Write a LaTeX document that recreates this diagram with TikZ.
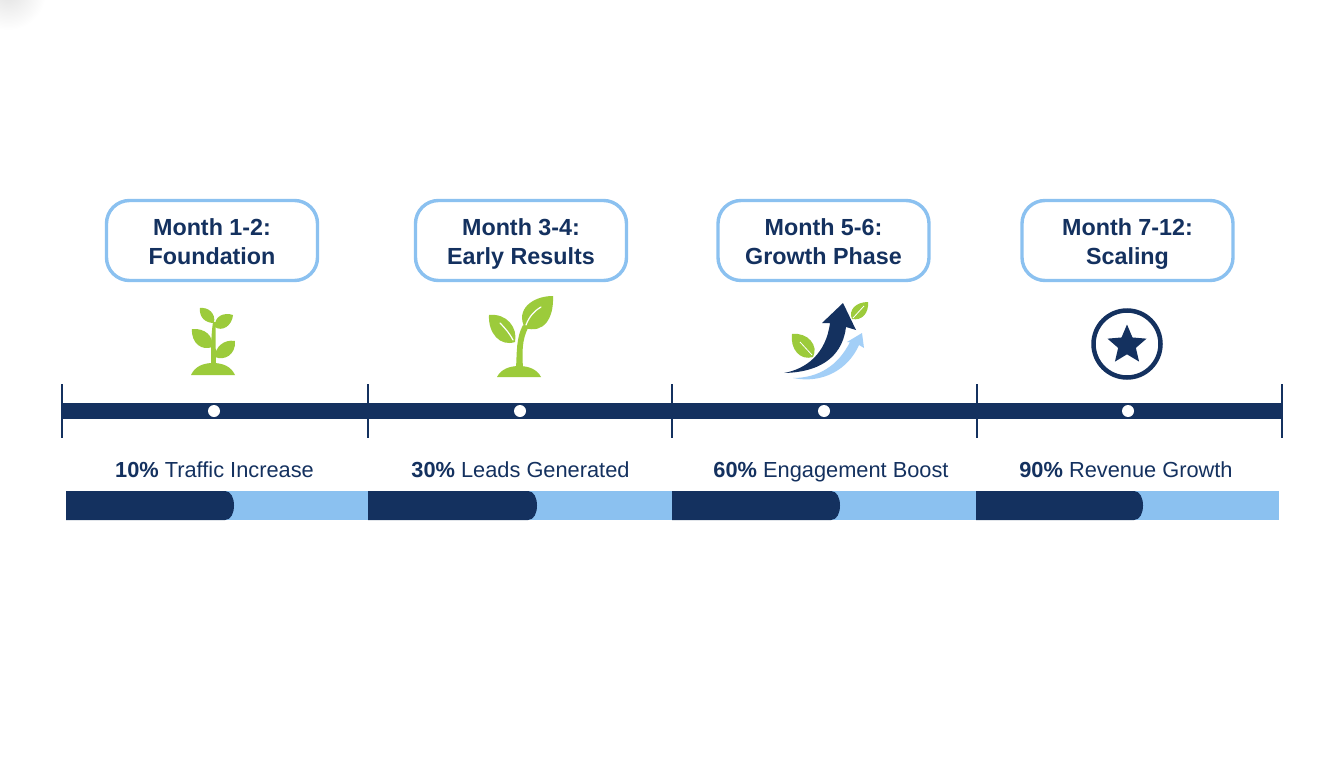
\documentclass[tikz,border=0pt]{standalone}
\usepackage{fontspec}
\setmainfont{Liberation Sans}
\usetikzlibrary{shapes.geometric}
\definecolor{navy}{HTML}{14315F}
\definecolor{sky}{HTML}{8BC1F0}
\definecolor{paleblue}{HTML}{A3CFF7}
\definecolor{leafgreen}{HTML}{9CCB3B}
\tikzset{
  phasebox/.style={draw=sky,line width=3.4pt,fill=white,rounded corners=23pt,minimum width=211pt,minimum height=80pt,align=center,text=navy,font=\fontsize{23.3}{29}\selectfont\bfseries,inner sep=0pt},
  metric/.style={text=navy,font=\fontsize{21.8}{26}\selectfont,inner sep=0pt,anchor=base},
  tick/.style={draw=navy,line width=2pt},
  dot/.style={circle,fill=white,minimum size=12pt,inner sep=0pt},
  vein/.style={draw=white,line width=1.2pt,line cap=round},
  plant/.style={fill=leafgreen,draw=none},
  navyfill/.style={fill=navy,draw=none},
  skyfill/.style={fill=paleblue,draw=none}
}
\newcommand{\progress}[3]{% x0, x1, darkend
  \fill[sky] (#1,491) rectangle (#2,520);
  \fill[navy] (#1,491) -- (#3-9,491) .. controls (#3-3,491) and (#3,498) .. (#3,505.5) .. controls (#3,513) and (#3-3,520) .. (#3-9,520) -- (#1,520) -- cycle;
}
\newcommand{\firstline}{\rule{0pt}{27.3pt}}
\begin{document}
\begin{tikzpicture}[x=1pt,y=-1pt]
\useasboundingbox (0,0) rectangle (1344,768);
\fill[white] (0,0) rectangle (1344,768);
\begin{scope}
  \clip (0,0) rectangle (50,30);
  \shade[inner color=black!11,outer color=white] (8,-8) circle (38);
\end{scope}

% phase boxes
\node[phasebox] (b1) at (212,240.5) {\firstline Month 1-2:\\\strut Foundation};
\node[phasebox] (b2) at (521,240.5) {\firstline Month 3-4:\\\strut Early Results};
\node[phasebox] (b3) at (823.5,240.5) {\firstline Month 5-6:\\\strut Growth Phase};
\node[phasebox] (b4) at (1127.5,240.5) {\firstline Month 7-12:\\\strut Scaling};

% sprout 1
\fill[plant] (191,375) .. controls (195,366) and (204,363) .. (213,363) .. controls (222,363) and (231,366) .. (235,375) -- cycle;
\fill[plant] (211,366) .. controls (211,350) and (211,335) .. (213,322) -- (216,322) .. controls (215,335) and (216,350) .. (216,366) -- cycle;
\fill[plant] (200,308) .. controls (208,307) and (216,313) .. (214,323) .. controls (205,323) and (199,317) .. (200,308) -- cycle;
\fill[plant] (233,315) .. controls (224,312) and (214,316) .. (215,327) .. controls (222,332) and (232,326) .. (233,315) -- cycle;
\fill[plant] (192,329) .. controls (205,328) and (214,336) .. (212,347) .. controls (203,351) and (191,344) .. (192,329) -- cycle;
\fill[plant] (235,341) .. controls (224,339) and (215,347) .. (215,357) .. controls (224,361) and (236,355) .. (235,341) -- cycle;

% sprout 2
\fill[plant] (497,377) .. controls (501,369) and (510,366) .. (519,366) .. controls (528,366) and (537,369) .. (541,377) -- cycle;
\fill[plant] (516,368) .. controls (517,352) and (516,338) .. (523,325) -- (528,328) .. controls (522,340) and (522,352) .. (523,368) -- cycle;
\fill[plant] (489,315) .. controls (507,313) and (518,328) .. (515,342) .. controls (500,347) and (488,333) .. (489,315) -- cycle;
\fill[plant] (553,296) .. controls (554,318) and (544,334) .. (525,328) .. controls (515,310) and (532,296) .. (553,296) -- cycle;
\draw[vein] (500,323) .. controls (505,328) and (510,334) .. (513,340);
\draw[vein] (541,307) .. controls (534,311) and (529,317) .. (526,325);

% growth arrows
\fill[skyfill] (793,378) .. controls (818,378) and (838,366) .. (850,342) -- (847,342) -- (862,333) -- (864,348) -- (859,345) .. controls (848,370) and (822,384) .. (793,378) -- cycle;
\fill[navyfill] (784,373) .. controls (806,369) and (826,354) .. (830,323) -- (822,323) -- (843,303) -- (856,330) -- (846,327) .. controls (843,352) and (826,372) .. (784,373) -- cycle;
\fill[plant] (792,334) .. controls (808,332) and (819,346) .. (813,357) .. controls (800,361) and (790,349) .. (792,334) -- cycle;
\fill[plant] (868,302) .. controls (869,313) and (862,321) .. (852,319) .. controls (848,310) and (856,302) .. (868,302) -- cycle;
\draw[draw=white,line width=.8pt] (800,342) -- (812,355);
\draw[draw=white,line width=.8pt] (864,306) -- (853,318);

% star badge
\node[circle,draw=navy,line width=4.5pt,fill=white,minimum size=67pt,inner sep=0pt] (badge) at (1127,344) {};
\node[star,star points=5,star point ratio=2.2,fill=navy,minimum size=41pt,inner sep=0pt] (starmark) at (1127,345) {};

% timeline
\fill[navy] (62,403) rectangle (1282,419);
\foreach \x/\n in {62/t0,368/t1,672/t2,977/t3,1282/t4}{
  \coordinate (\n a) at (\x,384);
  \coordinate (\n b) at (\x,438);
  \draw[tick] (\n a) -- (\n b);
}
\node[dot] (d1) at (214,411) {};
\node[dot] (d2) at (520,411) {};
\node[dot] (d3) at (824,411) {};
\node[dot] (d4) at (1128,411) {};

% metrics
\node[metric] (m1) at (214.5,477) {\textbf{10\%} Traffic Increase};
\node[metric] (m2) at (520.5,477) {\textbf{30\%} Leads Generated};
\node[metric] (m3) at (831,477) {\textbf{60\%} Engagement Boost};
\node[metric] (m4) at (1126,477) {\textbf{90\%} Revenue Growth};

% progress bars
\progress{66}{368}{234}
\progress{368}{672}{537}
\progress{672}{976}{840}
\progress{976}{1279}{1143}
\end{tikzpicture}
\end{document}
